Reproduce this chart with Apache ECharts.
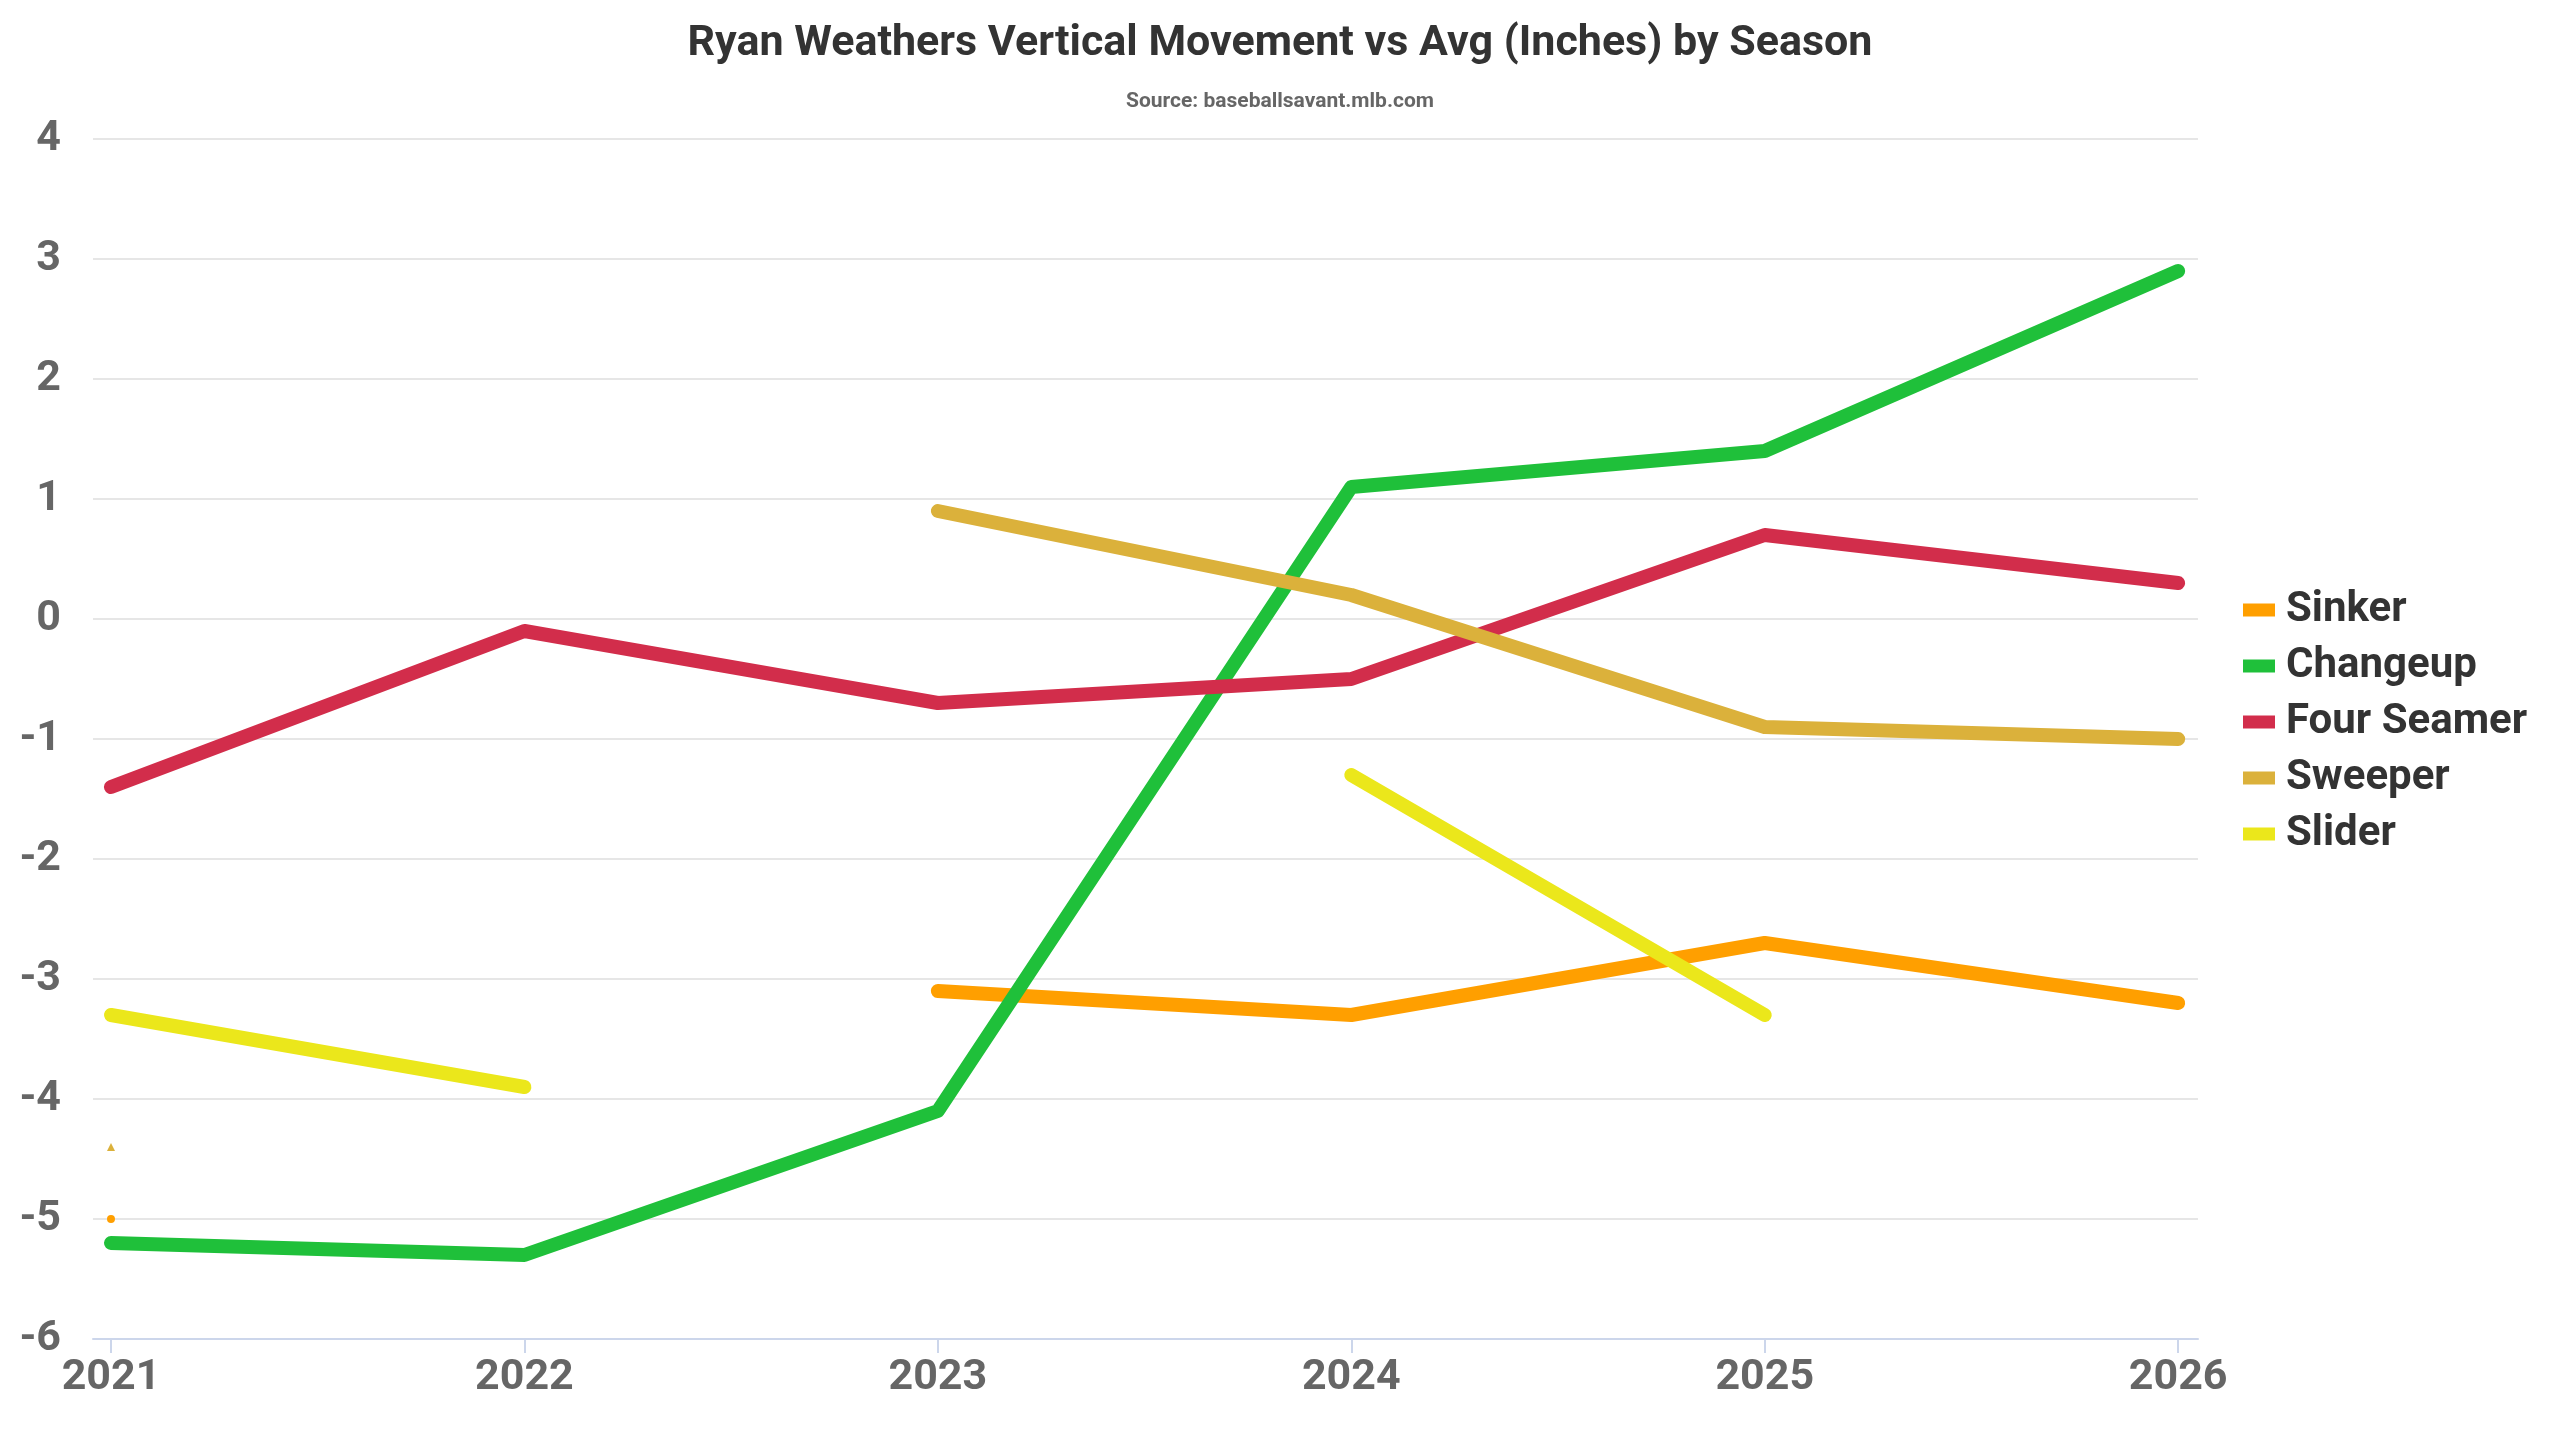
<!DOCTYPE html>
<html>
<head>
<meta charset="utf-8">
<script src="https://cdn.jsdelivr.net/npm/echarts@6/dist/echarts.min.js"></script>
<style>
html,body{margin:0;padding:0;background:#fff;}
#chart{width:2560px;height:1440px;}
</style>
</head>
<body>
<div id="chart"></div>
<script>
const seasons = [2021, 2022, 2023, 2024, 2025, 2026];
const seriesNames = ['Sinker', 'Changeup', 'Four Seamer', 'Sweeper', 'Slider'];
const sinker = [-5.0, null, -3.1, -3.3, -2.7, -3.2];
const changeup = [-5.2, -5.3, -4.1, 1.1, 1.4, 2.9];
const fourSeamer = [-1.4, -0.1, -0.7, -0.5, 0.7, 0.3];
const sweeper = [-4.4, null, 0.9, 0.2, -0.9, -1.0];
const slider = [-3.3, -3.9, null, -1.3, -3.3, null];
const yTicks = [-6, -5, -4, -3, -2, -1, 0, 1, 2, 3, 4];

const values = [sinker, changeup, fourSeamer, sweeper, slider];
const colors = ['#ff9f00', '#1fc03a', '#d22d4b', '#dbb13b', '#ebe71b'];
const isoSymbols = ['circle', 'diamond', 'rect', 'triangle', 'triangle'];
const FONT = 'Roboto, "Liberation Sans", sans-serif';

function buildData(arr, idx) {
  return arr.map((v, i) => {
    if (v === null) return [seasons[i], null];
    const prev = i > 0 ? arr[i - 1] : null;
    const next = i < arr.length - 1 ? arr[i + 1] : null;
    const isolated = prev === null && next === null;
    return {
      value: [seasons[i], v],
      symbol: isolated ? isoSymbols[idx] : 'none',
      symbolSize: isolated ? 8 : 0
    };
  });
}

const chart = echarts.init(document.getElementById('chart'));
chart.setOption({
  backgroundColor: '#ffffff',
  animation: false,
  title: [{
    text: 'Ryan Weathers Vertical Movement vs Avg (Inches) by Season',
    left: 'center',
    top: 18,
    textStyle: { fontFamily: FONT, fontWeight: 'bold', fontSize: 43, color: '#333333' }
  }, {
    text: 'Source: baseballsavant.mlb.com',
    left: 'center',
    top: 86,
    textStyle: { fontFamily: FONT, fontWeight: 'bold', fontSize: 21, color: '#666666' }
  }],
  legend: {
    orient: 'vertical',
    left: 2238,
    top: 580,
    itemWidth: 32,
    itemHeight: 13,
    itemGap: 6,
    icon: 'rect',
    data: seriesNames,
    textStyle: { fontFamily: FONT, fontWeight: 'bold', fontSize: 42, color: '#333333', lineHeight: 50, padding: [0, 0, 0, 6] }
  },
  grid: { left: 93, right: 362, top: 139, bottom: 101, containLabel: false },
  xAxis: {
    type: 'value',
    min: 2020.9565,
    max: 2026.048,
    splitLine: { show: false },
    axisLine: { show: true, onZero: false, lineStyle: { color: '#ccd6eb', width: 2 } },
    axisTick: { show: true, customValues: seasons, length: 14, lineStyle: { color: '#ccd6eb', width: 2 } },
    axisLabel: {
      customValues: seasons,
      margin: 18,
      fontFamily: FONT, fontWeight: 'bold', fontSize: 43, color: '#666666',
      formatter: v => String(v)
    }
  },
  yAxis: {
    type: 'value',
    min: -6,
    max: 4,
    interval: 1,
    axisLine: { show: false },
    axisTick: { show: false },
    splitLine: { lineStyle: { color: '#e6e6e6', width: 2 } },
    axisLabel: {
      margin: 32,
      fontFamily: FONT, fontWeight: 'bold', fontSize: 43, color: '#666666',
      formatter: v => yTicks.includes(v) ? String(v) : ''
    }
  },
  series: seriesNames.map((name, idx) => ({
    name: name,
    type: 'line',
    data: buildData(values[idx], idx),
    connectNulls: false,
    showSymbol: true,
    color: colors[idx],
    itemStyle: { color: colors[idx] },
    lineStyle: { color: colors[idx], width: 14, cap: 'round', join: 'round' },
    emphasis: { disabled: true },
    z: 2 + idx
  }))
});
</script>
</body>
</html>
